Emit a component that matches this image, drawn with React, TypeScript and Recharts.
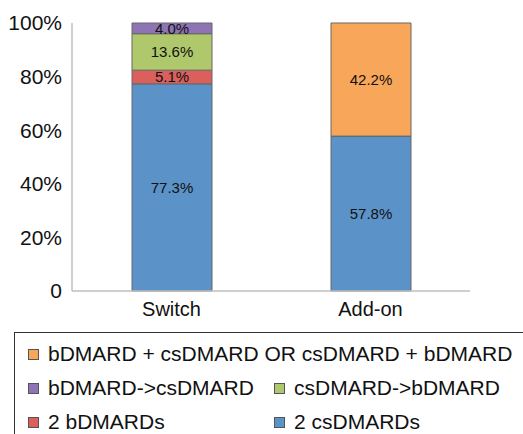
import { BarChart, Bar, XAxis, YAxis, LabelList } from 'recharts'

const categories = ['Switch', 'Add-on']

// stacked from bottom to top
const twoCs = [77.3, 57.8]
const twoB = [5.1, null]
const csToB = [13.6, null]
const bToCs = [4.0, null]
const combo = [null, 42.2]

const yTicks = [0, 20, 40, 60, 80, 100]

const series = [
  { key: 'twoCs', name: '2 csDMARDs', color: '#5B93C8', values: twoCs },
  { key: 'twoB', name: '2 bDMARDs', color: '#DC5F5C', values: twoB },
  { key: 'csToB', name: 'csDMARD->bDMARD', color: '#AFC86B', values: csToB },
  { key: 'bToCs', name: 'bDMARD->csDMARD', color: '#8E74B4', values: bToCs },
  { key: 'combo', name: 'bDMARD + csDMARD OR csDMARD + bDMARD', color: '#F7A65A', values: combo },
]

// legend rows as in the original (two columns)
const legendRows = [['combo'], ['bToCs', 'csToB'], ['twoB', 'twoCs']]

const data = categories.map((cat, i) => {
  const row: Record<string, any> = { name: cat }
  series.forEach(s => { row[s.key] = s.values[i] })
  return row
})

const font = '"Liberation Sans", Arial, sans-serif'

export default function App() {
  return (
    <div style={{ position: 'absolute', left: 0, top: 0, width: 523, height: 434, background: '#fff', fontFamily: font }}>
      <BarChart width={523} height={320} data={data} margin={{ top: 23, right: 53, left: 0, bottom: 0 }}>
        <XAxis
          dataKey="name"
          height={29}
          tickLine={false}
          tickSize={0}
          tickMargin={11}
          axisLine={{ stroke: '#BFBFBF', strokeWidth: 1.5 }}
          tick={{ fontSize: 20, fill: '#111', fontFamily: font }}
        />
        <YAxis
          width={72}
          domain={[0, 100]}
          ticks={yTicks}
          interval={0}
          tickLine={false}
          tickSize={0}
          tickMargin={10}
          axisLine={{ stroke: '#BFBFBF', strokeWidth: 1.5 }}
          tickFormatter={v => (v === 0 ? '0' : `${v}%`)}
          tick={{ fontSize: 21, fill: '#111', fontFamily: font }}
        />
        {series.map(s => (
          <Bar key={s.key} dataKey={s.key} name={s.name} stackId="a" fill={s.color}
            stroke="#666" strokeWidth={1} barSize={80} isAnimationActive={false}>
            <LabelList
              dataKey={s.key}
              position="center"
              formatter={(v: any) => (v == null ? '' : `${Number(v).toFixed(1)}%`)}
              style={{ fontSize: 15, fill: '#111', fontFamily: font }}
            />
          </Bar>
        ))}
      </BarChart>
      <div style={{
        position: 'absolute', left: 14, top: 332, width: 530, height: 120,
        border: '1px solid #333', boxSizing: 'border-box',
      }}>
        {legendRows.map((row, ri) => (
          <div key={ri} style={{ position: 'absolute', top: 8 + ri * 34, left: 0, height: 26, width: 520 }}>
            {row.map((k, ci) => {
              const s = series.find(x => x.key === k)!
              return (
                <div key={k} style={{ position: 'absolute', left: 13 + ci * 246, top: 0, display: 'flex', alignItems: 'center', height: 26 }}>
                  <span style={{ display: 'inline-block', width: 9, height: 9, background: s.color, border: '1px solid #555', marginRight: 9 }} />
                  <span style={{ fontSize: 21, color: '#111', whiteSpace: 'nowrap' }}>{s.name}</span>
                </div>
              )
            })}
          </div>
        ))}
      </div>
    </div>
  )
}
